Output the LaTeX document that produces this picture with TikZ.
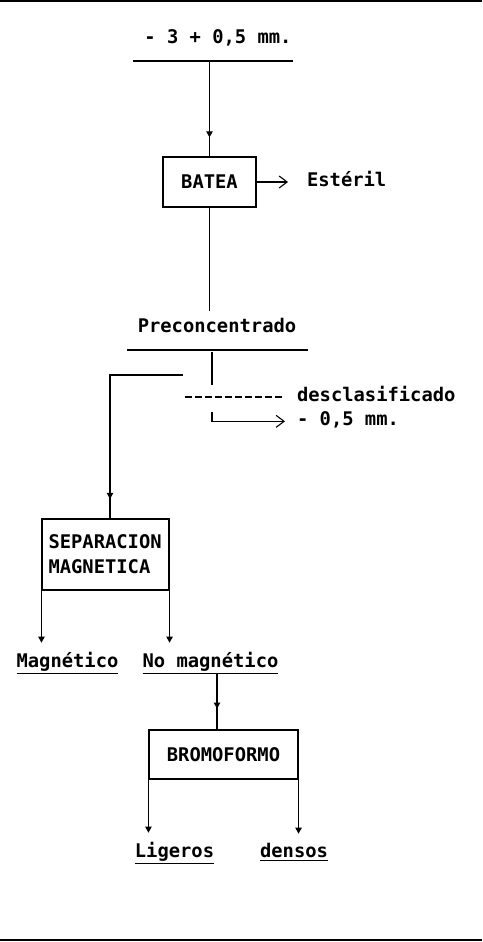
\documentclass[tikz,border=0pt]{standalone}
\usepackage{fontspec}
\setmonofont{DejaVu Sans Mono}
\usepackage{tikz}
\usetikzlibrary{arrows.meta}
\usetikzlibrary{decorations.markings}

\begin{document}
\begin{tikzpicture}[x=0.5pt, y=-0.5pt, font=\ttfamily\bfseries\fontsize{9.4}{12.5}\selectfont,
    flow/.style={line width=0.55pt},
    tri/.style={-{Triangle[width=3.2pt, length=3pt]}},
    barb/.style={-{Straight Barb[length=4pt, width=6pt]}},
    midtri/.style={postaction={decorate}, decoration={markings, mark=at position #1 with {\arrow{Triangle[width=3.2pt, length=3pt]}}}},
    box/.style={draw, line width=0.55pt}]

  \useasboundingbox (0, 0) rectangle (482, 942);

  \draw [line width=1pt] (0, 1) -- (482, 1);
  \draw [line width=1pt] (0, 940) -- (482, 940);

  % feed
  \node [anchor=base] (feed) at (218, 43) {- 3 + 0,5 mm.};
  \coordinate (feedL) at (133, 61);
  \coordinate (feedR) at (293, 61);
  \coordinate (feedout) at (209.5, 61);
  \draw [flow] (feedL) -- (feedR);

  \node [box, minimum width=46.5pt, minimum height=25pt] (batea) at (209.5, 182) {BATEA};
  \draw [flow, midtri=0.8] (feedout) -- (batea.north);

  \node [anchor=base west] (esteril) at (300, 186) {Estéril};
  \draw [flow, barb, shorten >=6pt] (batea.east) -- (batea.east -| esteril.west);

  % preconcentrado
  \node [anchor=base] (precon) at (217, 332) {Preconcentrado};
  \draw [flow] (batea.south) -- (batea.south |- precon.north);
  \coordinate (preL) at (127, 350);
  \coordinate (preR) at (308, 350);
  \draw [flow] (preL) -- (preR);

  \coordinate (split) at (212, 352);
  \coordinate (splitend) at (212, 385);
  \draw [flow] (split) -- (splitend);

  \node [anchor=base west] (descl) at (290, 401) {desclasificado};
  \coordinate (dashstart) at (185, 397);
  \draw [flow, dash pattern=on 3.5pt off 1.5pt, shorten >=2.5pt] (dashstart) -- (dashstart -| descl.west);

  \node [anchor=base west] (fine) at (290, 425) {- 0,5 mm.};
  \coordinate (fineout) at (212, 412);
  \draw [flow, barb, shorten >=2.5pt] (fineout) |- ([yshift=-1pt]fine.west);

  % separacion magnetica
  \node [box, minimum height=35.5pt, text width=57pt, inner xsep=3.25pt, align=left] (sepmag) at (105.5, 554.5) {SEPARACION\\MAGNETICA};
  \coordinate (splitL) at (183, 375);
  \coordinate (turnL) at (110, 375);
  \draw [flow, midtri=0.91] (splitL) -- (turnL) -- (turnL |- sepmag.north);

  \node [anchor=base] (magn) at (67.5, 667) {\underline{Magnético}};
  \node [anchor=base] (nomagn) at (210.5, 667) {\underline{No magnético}};
  \draw [flow, tri, shorten >=1pt] (sepmag.south west) -- (sepmag.south west |- magn.north);
  \draw [flow, tri, shorten >=1pt] (sepmag.south east) -- (sepmag.south east |- nomagn.north);

  % bromoformo
  \node [box, minimum width=74.5pt, minimum height=24.5pt] (bromo) at (223.5, 754.5) {BROMOFORMO};
  \coordinate (nmdrop) at (217, 673);
  \draw [flow, midtri=0.63] (nmdrop) -- (nmdrop |- bromo.north);

  \node [anchor=base] (ligeros) at (174.5, 857) {\underline{Ligeros}};
  \node [anchor=base] (densos) at (294, 857) {\underline{densos}};
  \draw [flow, tri, shorten >=1pt] (bromo.south west) -- (bromo.south west |- ligeros.north);
  \draw [flow, tri, shorten >=1pt] (bromo.south east) -- (bromo.south east |- densos.north);

\end{tikzpicture}
\end{document}
